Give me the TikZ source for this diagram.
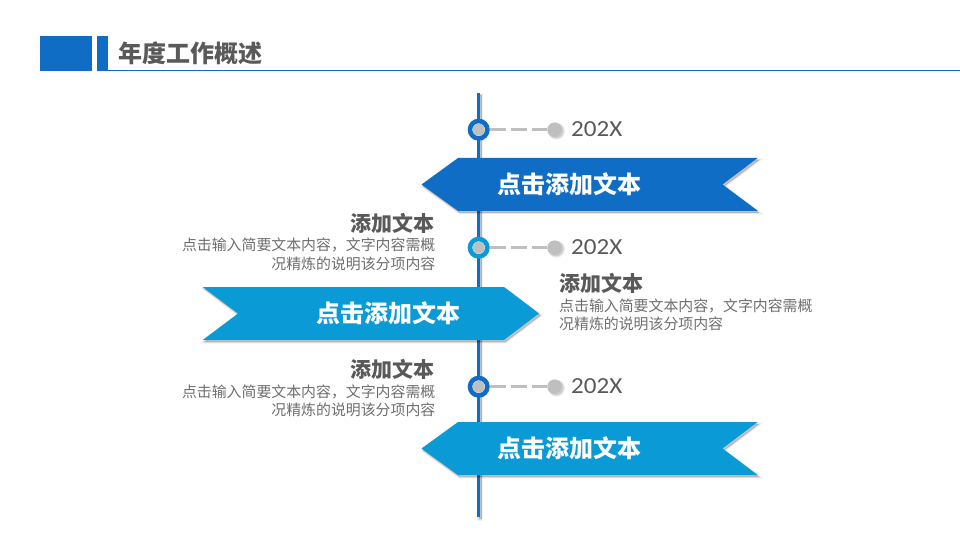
\documentclass[tikz,border=0pt]{standalone}
\usepackage{fontspec}
\setmainfont{Noto Sans CJK SC}
\newfontfamily\numfont{Carlito}
\definecolor{blueA}{HTML}{0F6DC6}
\definecolor{blueB}{HTML}{0A9AD6}
\definecolor{txt}{HTML}{595959}
\definecolor{bodytxt}{HTML}{6E6E6E}
\definecolor{dotgray}{HTML}{BFBFBF}
\newcommand{\softpath}[2][]{%
  \fill[black,opacity=.05,draw=black,line width=3pt,shift={(1.5,2)},#1] #2;
  \fill[black,opacity=.07,draw=black,line width=1.5pt,shift={(1.5,2)},#1] #2;
  \fill[black,opacity=.10,shift={(1.5,2)},#1] #2;
}
\tikzset{
  titletext/.style={font=\bfseries\fontsize{24}{28}\selectfont,text=txt,inner sep=0,anchor=west},
  ribbontext/.style={font=\bfseries\fontsize{24}{28}\selectfont,text=white,inner sep=0},
  headtext/.style={font=\bfseries\fontsize{21}{25}\selectfont,text=txt,inner sep=0},
  bodytext/.style={font=\fontsize{14.9}{18}\selectfont,text=bodytxt,inner sep=0},
  yeartext/.style={font=\numfont\fontsize{23}{27}\selectfont,text=txt,inner sep=0,anchor=west,xscale=1.09},
  ringnode/.style={circle,draw=#1,line width=4.6pt,fill=white,minimum size=17.4pt,inner sep=0},
  coredot/.style={circle,fill=dotgray,minimum size=12pt,inner sep=0},
  enddot/.style={circle,fill=dotgray,minimum size=14.5pt,inner sep=0},
  linkline/.style={dotgray,line width=2.8pt,dash pattern=on 16pt off 5pt},
}
\begin{document}
\begin{tikzpicture}[x=1pt,y=-1pt]
\useasboundingbox (0,0) rectangle (960,540);
% header
\fill[blueA] (40,36) rectangle (92,71);
\fill[blueA] (97,36) rectangle (108,71);
\draw[blueA,line width=1.2pt] (108,70.4) -- (960,70.4);
\node[titletext] (title) at (118,53) {年度工作概述};
% axis
\coordinate (axistop) at (478.7,93);
\coordinate (axisbot) at (478.7,517);
\softpath{(477.2,93) rectangle (480.2,517)}
\draw[blueA,line width=3pt] (axistop) -- (axisbot);
% ribbons
\softpath{(421.5,184.5) -- (458,158) -- (757.7,158) -- (722.5,184.5) -- (757.7,210.8) -- (458,210.8) -- cycle}
\fill[blueA] (421.5,184.5) -- (458,158) -- (757.7,158) -- (722.5,184.5) -- (757.7,210.8) -- (458,210.8) -- cycle;
\softpath{(202.7,287) -- (504,287) -- (539,313.5) -- (504,340) -- (202.7,340) -- (238,313.5) -- cycle}
\fill[blueB] (202.7,287) -- (504,287) -- (539,313.5) -- (504,340) -- (202.7,340) -- (238,313.5) -- cycle;
\softpath{(421.5,448.5) -- (458,422) -- (757.7,422) -- (722.5,448.5) -- (757.7,475) -- (458,475) -- cycle}
\fill[blueB] (421.5,448.5) -- (458,422) -- (757.7,422) -- (722.5,448.5) -- (757.7,475) -- (458,475) -- cycle;
\node[ribbontext] (rt1) at (569,184.5) {点击添加文本};
\node[ribbontext] (rt2) at (388,313.5) {点击添加文本};
\node[ribbontext] (rt3) at (569,448.5) {点击添加文本};
% markers
\foreach \i/\yy/\col in {1/129.7/blueA,2/247.7/blueB,3/386.7/blueA}{
  \fill[black,opacity=.08] (556.5,\yy+1.5) circle (8.5);
  \fill[black,opacity=.12] (556.2,\yy+1.2) circle (7.5);
  \node[enddot] (dot\i) at (554.5,\yy) {};
  \node[ringnode=\col] (ring\i) at (478.7,\yy) {};
  \node[coredot] (core\i) at (478.7,\yy) {};
  \draw[linkline] (ring\i.east) -- (dot\i.west);
  \node[yeartext] (year\i) at (571,\yy-0.5) {202X};
}
% left notes
\node[headtext,anchor=east] (h1) at (434.5,223) {添加文本};
\node[bodytext,anchor=east] (b1a) at (435.5,245) {点击输入简要文本内容，文字内容需概};
\node[bodytext,anchor=east] (b1b) at (435.5,264) {况精炼的说明该分项内容};
\node[headtext,anchor=east] (h3) at (434.5,369) {添加文本};
\node[bodytext,anchor=east] (b3a) at (435.5,391.5) {点击输入简要文本内容，文字内容需概};
\node[bodytext,anchor=east] (b3b) at (435.5,409.5) {况精炼的说明该分项内容};
% right notes
\node[headtext,anchor=west] (h2) at (559,283) {添加文本};
\node[bodytext,anchor=west] (b2a) at (559,305.5) {点击输入简要文本内容，文字内容需概};
\node[bodytext,anchor=west] (b2b) at (559,323.5) {况精炼的说明该分项内容};
\end{tikzpicture}
\end{document}
